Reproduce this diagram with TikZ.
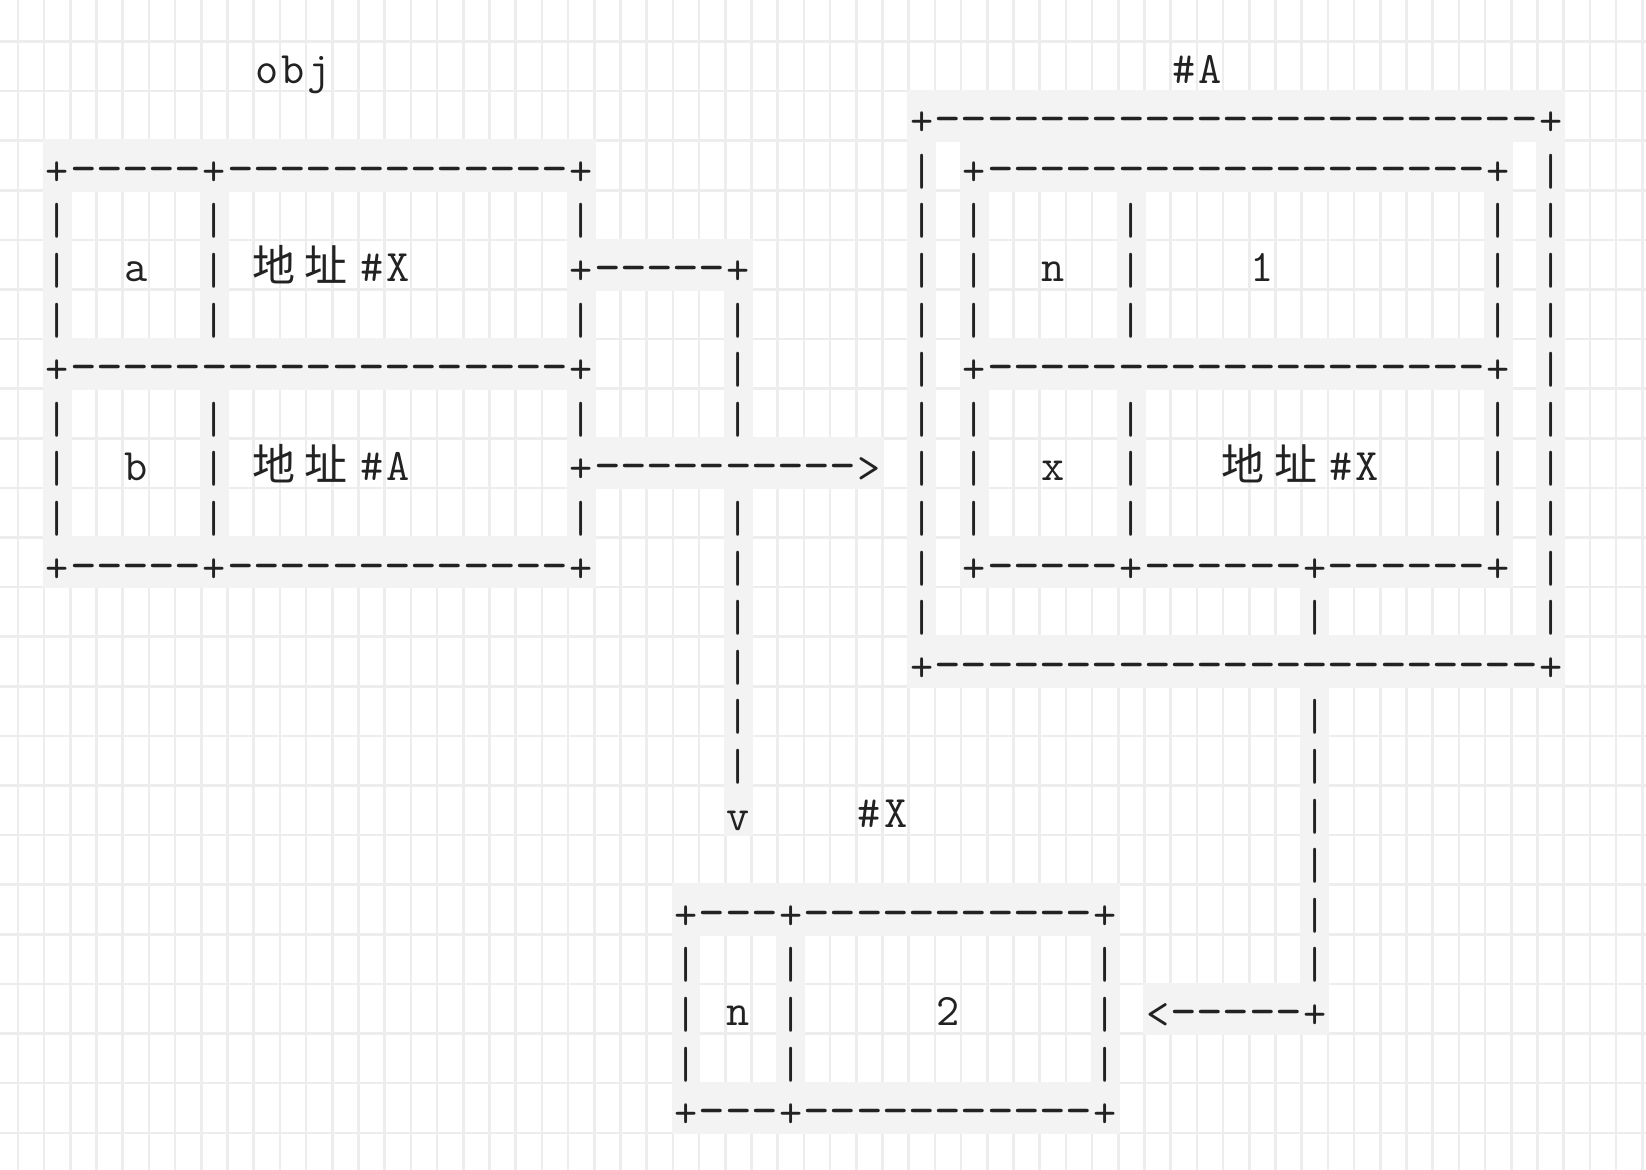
\documentclass[tikz,border=0pt]{standalone}
\usepackage{fontspec}
\usepackage{graphicx}
\setmonofont{Latin Modern Mono}
\newfontfamily\cjkfont{Noto Sans CJK SC}
\definecolor{gridc}{RGB}{237,237,237}
\definecolor{cellg}{RGB}{243,243,243}
\definecolor{ink}{RGB}{34,34,34}
\newcount\artc
\newif\ifartline
\newif\iffillpass
\newcommand\artisline[1]{\artlinefalse
  \ifx#1+\artlinetrue\fi\ifx#1-\artlinetrue\fi\ifx#1|\artlinetrue\fi
  \ifx#1<\artlinetrue\fi\ifx#1>\artlinetrue\fi\ifx#1v\artlinetrue\fi}
\newcommand\artglyph[1]{\ifx#1-\scalebox{1.15}[1.2]{-}\else#1\fi}
\newcommand\artchar[1]{%
  \ifx#1.\else
    \pgfmathsetmacro\cx{44.1+26.2*\the\artc+13.1}%
    \pgfmathsetmacro\cy{140.8+49.6*\artr}%
    \artisline{#1}%
    \ifartline\def\bl{44.6}\else\def\bl{41.8}\fi
    \iffillpass
      \ifartline\fill[cellg] (\cx-14.4,\cy-1.3) rectangle (\cx+14.4,\cy+50.9);\fi
    \else
      \node[ch,name=ch\artr x\the\artc] at (\cx,\cy+\bl) {\artglyph{#1}};%
    \fi
  \fi}
\def\artloop#1{%
  \ifx#1\relax\let\artnext\relax\else\def\artnext{\artchar{#1}\global\advance\artc by 1\relax\artloop}\fi
  \artnext}
\newcommand\artrow[3]{\def\artr{#1}\global\artc=#2\relax\artloop#3\relax}
% CJK glyph placed from the left edge of column #2 on row #1
\newcommand\cjkat[4]{\iffillpass\else\node[cjk,name=#4] at ({44.1+26.2*#2-1.5},{140.8+49.6*#1+41.8}) {#3};\fi}
\tikzset{
  ch/.style={inner sep=0pt, outer sep=0pt, anchor=base, text=ink,
    font=\ttfamily\fontsize{22.5}{23}\selectfont},
  cjk/.style={inner sep=0pt, outer sep=0pt, anchor=base west, text=ink,
    font=\cjkfont\fontsize{21.5}{22}\selectfont},
}
\newcommand\allrows{%
\artrow{-2}{8}{obj}%
\artrow{-2}{43}{\#A}%
\artrow{-1}{33}{+-----------------------+}%
\artrow{0}{0}{+-----+-------------+}%
\artrow{0}{33}{|.+-------------------+.|}%
\artrow{1}{0}{|.....|.............|}%
\artrow{1}{33}{|.|.....|.............|.|}%
\artrow{2}{0}{|..a..|}%
\cjkat{2}{8}{地}{o1}%
\cjkat{2}{10}{址}{o2}%
\artrow{2}{12}{\#X}%
\artrow{2}{20}{+-----+}%
\artrow{2}{33}{|.|..n..|....1........|.|}%
\artrow{3}{0}{|.....|.............|.....|}%
\artrow{3}{33}{|.|.....|.............|.|}%
\artrow{4}{0}{+-------------------+.....|}%
\artrow{4}{33}{|.+-------------------+.|}%
\artrow{5}{0}{|.....|.............|.....|}%
\artrow{5}{33}{|.|.....|.............|.|}%
\artrow{6}{0}{|..b..|}%
\cjkat{6}{8}{地}{o3}%
\cjkat{6}{10}{址}{o4}%
\artrow{6}{12}{\#A}%
\artrow{6}{20}{+---------->}%
\artrow{6}{33}{|.|..x..|}%
\cjkat{6}{45}{地}{a1}%
\cjkat{6}{47}{址}{a2}%
\artrow{6}{49}{\#X....|.|}%
\artrow{7}{0}{|.....|.............|.....|}%
\artrow{7}{33}{|.|.....|.............|.|}%
\artrow{8}{0}{+-----+-------------+.....|}%
\artrow{8}{33}{|.+-----+------+------+.|}%
\artrow{9}{26}{|}%
\artrow{9}{33}{|..............|........|}%
\artrow{10}{26}{|}%
\artrow{10}{33}{+-----------------------+}%
\artrow{11}{26}{|}%
\artrow{11}{48}{|}%
\artrow{12}{26}{|}%
\artrow{12}{48}{|}%
\artrow{13}{26}{v....\#X}%
\artrow{13}{48}{|}%
\artrow{14}{48}{|}%
\artrow{15}{24}{+---+-----------+.......|}%
\artrow{16}{24}{|...|...........|.......|}%
\artrow{17}{24}{|.n.|.....2.....|.<-----+}%
\artrow{18}{24}{|...|...........|}%
\artrow{19}{24}{+---+-----------+}%
}
\begin{document}
\begin{tikzpicture}[x=0.5pt,y=-0.5pt]
\useasboundingbox (0,0) rectangle (1646,1170);
\fill[white] (0,0) rectangle (1646,1170);
\foreach \k in {-1,...,61} \draw[gridc, line width=1.3pt] ({44.1+26.2*\k},0) -- ({44.1+26.2*\k},1170);
\foreach \k in {-2,...,20} \draw[gridc, line width=1.3pt] (0,{140.8+49.6*\k}) -- (1646,{140.8+49.6*\k});
\fillpasstrue
\allrows
\fillpassfalse
\allrows
\end{tikzpicture}
\end{document}
